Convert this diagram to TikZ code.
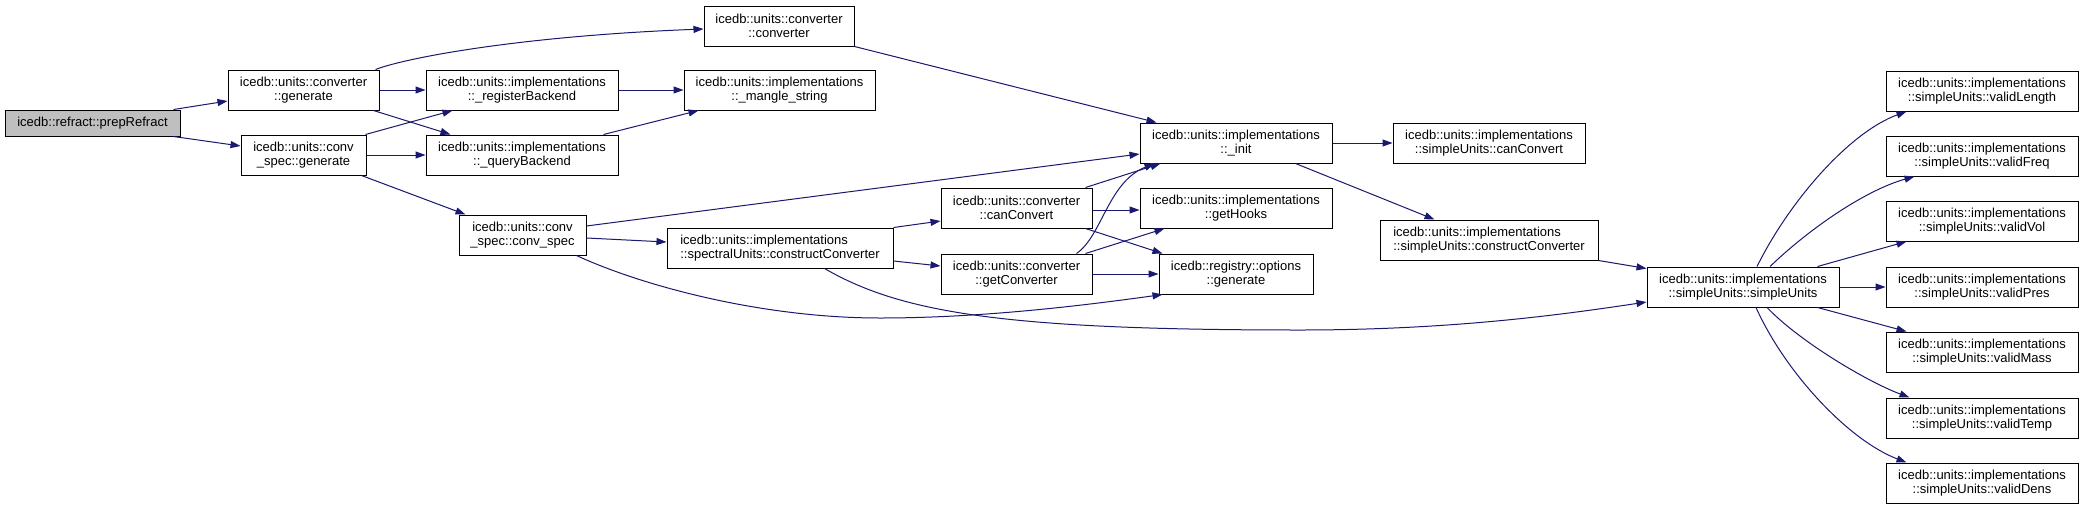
\documentclass[tikz,border=0pt]{standalone}
\usepackage{fontspec}
\setmainfont{Liberation Sans}
\usetikzlibrary{arrows.meta,calc}
\definecolor{edgeblue}{RGB}{25,25,112}
\definecolor{rootgray}{RGB}{191,191,191}
\begin{document}
\begin{tikzpicture}[x=1pt,y=-1pt,
  box/.style={draw=black,line width=1pt,fill=white,inner sep=0pt,align=center,
    font=\fontsize{13}{14.5}\selectfont},
  lbox/.style={box,align=left},
  edge/.style={draw=edgeblue,line width=1pt,-{Triangle[length=10pt,width=7pt]}}]
\useasboundingbox[fill=white] (0,0) rectangle (2084,509);
% nodes
\node[box,fill=rootgray,minimum width=175,minimum height=26] (pr) at (92.5,123) {icedb::refract::prepRefract};
\node[box,minimum width=151,minimum height=40] (cg) at (303.5,90) {icedb::units::converter\\::generate};
\node[box,minimum width=125,minimum height=40] (csg) at (303.5,155) {icedb::units::conv\\\_spec::generate};
\node[box,minimum width=192,minimum height=40] (rb) at (522,90) {icedb::units::implementations\\::\_registerBackend};
\node[box,minimum width=192,minimum height=40] (qb) at (522,155) {icedb::units::implementations\\::\_queryBackend};
\node[box,minimum width=127,minimum height=40] (cs) at (522.5,235) {icedb::units::conv\\\_spec::conv\_spec};
\node[box,minimum width=150,minimum height=40] (cc) at (779,26) {icedb::units::converter\\::converter};
\node[box,minimum width=191,minimum height=40] (ms) at (779.5,90) {icedb::units::implementations\\::\_mangle\_string};
\node[lbox,minimum width=226,minimum height=40] (sc) at (780,248) {icedb::units::implementations\\::spectralUnits::constructConverter};
\node[box,minimum width=192,minimum height=40] (init) at (1236,143) {icedb::units::implementations\\::\_init};
\node[box,minimum width=151,minimum height=40] (can) at (1016.5,208) {icedb::units::converter\\::canConvert};
\node[box,minimum width=151,minimum height=40] (gc) at (1016.5,274) {icedb::units::converter\\::getConverter};
\node[box,minimum width=192,minimum height=40] (gh) at (1236,208) {icedb::units::implementations\\::getHooks};
\node[box,minimum width=154,minimum height=40] (og) at (1236,274) {icedb::registry::options\\::generate};
\node[box,minimum width=192,minimum height=40] (scan) at (1489,143) {icedb::units::implementations\\::simpleUnits::canConvert};
\node[lbox,minimum width=218,minimum height=40] (scc) at (1489,240) {icedb::units::implementations\\::simpleUnits::constructConverter};
\node[box,minimum width=192,minimum height=40] (su) at (1743,287) {icedb::units::implementations\\::simpleUnits::simpleUnits};
\node[box,minimum width=192,minimum height=40] (vl) at (1982,91) {icedb::units::implementations\\::simpleUnits::validLength};
\node[box,minimum width=192,minimum height=40] (vf) at (1982,156) {icedb::units::implementations\\::simpleUnits::validFreq};
\node[box,minimum width=192,minimum height=40] (vv) at (1982,221) {icedb::units::implementations\\::simpleUnits::validVol};
\node[box,minimum width=192,minimum height=40] (vp) at (1982,287) {icedb::units::implementations\\::simpleUnits::validPres};
\node[box,minimum width=192,minimum height=40] (vm) at (1982,352) {icedb::units::implementations\\::simpleUnits::validMass};
\node[box,minimum width=192,minimum height=40] (vt) at (1982,418) {icedb::units::implementations\\::simpleUnits::validTemp};
\node[box,minimum width=192,minimum height=40] (vd) at (1982,483) {icedb::units::implementations\\::simpleUnits::validDens};
% edges
\draw[edge] ($(pr.north east)+(-7,0)$) -- ($(cg.west)+(0,11)$);
\draw[edge] ($(pr.south east)+(-7,0)$) -- ($(csg.west)+(0,-9)$);
\draw[edge] ($(cg.north east)+(-4,0)$) .. controls (405,58) and (520,36) .. ($(cc.west)+(0,3)$);
\draw[edge] (cg.east) -- (rb.west);
\draw[edge] ($(cg.south east)+(-6,0)$) -- ($(qb.north west)+(25,0)$);
\draw[edge] ($(csg.north east)+(-1,0)$) -- ($(rb.south west)+(27,0)$);
\draw[edge] (csg.east) -- (qb.west);
\draw[edge] ($(csg.south east)+(-5,0)$) -- ($(cs.north west)+(7,0)$);
\draw[edge] (rb.east) -- (ms.west);
\draw[edge] ($(qb.north east)+(-15,0)$) -- ($(ms.south west)+(15,0)$);
\draw[edge] (cc.south east) -- ($(init.north west)+(17,0)$);
\draw[edge] ($(cs.east)+(0,-9)$) -- ($(init.west)+(0,11)$);
\draw[edge] ($(cs.east)+(0,3)$) -- ($(sc.west)+(0,-6)$);
\draw[edge] ($(cs.south east)+(-10,0)$) .. controls (640,285) and (760,318) .. (880,318) .. controls (980,318) and (1080,306) .. ($(og.south west)+(4,0)$);
\draw[edge] (sc.north east) -- ($(can.west)+(0,13)$);
\draw[edge] ($(sc.east)+(0,13)$) -- ($(gc.west)+(0,-8)$);
\draw[edge] ($(sc.south east)+(-69,0)$) .. controls (900,312) and (1000,330) .. (1300,330) .. controls (1450,330) and (1560,315) .. ($(su.west)+(0,15)$);
\draw[edge] ($(can.north east)+(-7,0)$) -- ($(init.south west)+(21,0)$);
\draw[edge] ($(can.east)+(0,2)$) -- ($(gh.west)+(0,2)$);
\draw[edge] ($(can.south east)+(-7,0)$) -- ($(og.north west)+(4,0)$);
\draw[edge] ($(gc.north east)+(-16,0)$) .. controls (1102,236) and (1108,182) .. ($(init.south west)+(15,0)$);
\draw[edge] ($(gc.north east)+(-7,0)$) -- ($(gh.south west)+(25,0)$);
\draw[edge] (gc.east) -- (og.west);
\draw[edge] (init.east) -- (scan.west);
\draw[edge] ($(init.south east)+(-37,0)$) -- ($(scc.north west)+(55,0)$);
\draw[edge] (scc.south east) -- ($(su.north west)+(0,2)$);
\draw[edge] ($(su.north)+(14,0)$) .. controls (1790,200) and (1850,132) .. ($(vl.south west)+(21,0)$);
\draw[edge] ($(su.north)+(27,0)$) .. controls (1810,228) and (1866,190) .. ($(vf.south west)+(29,0)$);
\draw[edge] ($(su.north east)+(-22,0)$) -- ($(vv.south west)+(21,0)$);
\draw[edge] (su.east) -- (vp.west);
\draw[edge] ($(su.south east)+(-22,0)$) -- ($(vm.north west)+(21,0)$);
\draw[edge] ($(su.south)+(24,0)$) .. controls (1800,342) and (1868,382) .. ($(vt.north west)+(24,0)$);
\draw[edge] ($(su.south)+(13,0)$) .. controls (1785,372) and (1848,440) .. ($(vd.north west)+(21,0)$);
\end{tikzpicture}
\end{document}
